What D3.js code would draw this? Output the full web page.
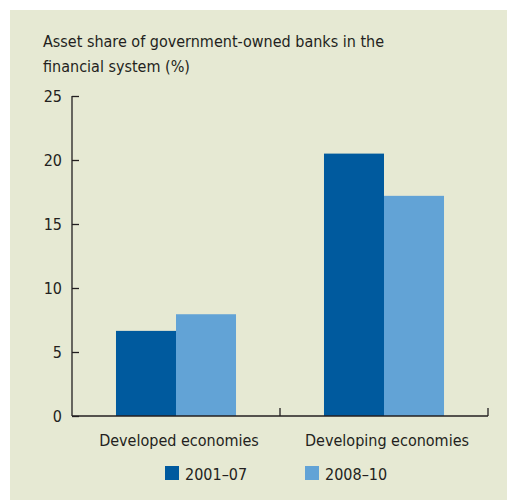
<!DOCTYPE html>
<html><head><meta charset="utf-8">
<script src="https://cdn.jsdelivr.net/npm/d3@7"></script>
<style>body{margin:0;background:#fff}svg text{font-family:"DejaVu Sans Condensed","Liberation Sans Narrow",sans-serif;fill:#231f20}</style>
</head><body><svg id="c" width="507" height="500"></svg>
<script>
const categories = ["Developed economies", "Developing economies"];
const seriesNames = ["2001–07", "2008–10"];
const values2001_07 = [6.65, 20.5];
const values2008_10 = [7.95, 17.2];
const yTicks = [0, 5, 10, 15, 20, 25];
const colors = ["#005a9e", "#62a3d6"];
const title = ["Asset share of government-owned banks in the", "financial system (%)"];

const FS = "16px";
const svg = d3.select("#c");
svg.append("rect").attr("x", 10).attr("y", 10).attr("width", 497).attr("height", 490).attr("fill", "#e6e9d3");

const x0 = 72, x1 = 488, yTop = 96, yBot = 416;
const y = d3.scaleLinear().domain([0, 25]).range([yBot, yTop]);
const x = d3.scaleBand().domain(categories).range([x0, x1]).paddingInner(0).paddingOuter(0);
const xs = d3.scaleBand().domain(seriesNames).range([0, x.bandwidth()]).paddingInner(0).paddingOuter(0.733);

const t = svg.append("text").attr("x", 43).attr("y", 47).style("font-size", FS);
title.forEach((l, i) => t.append("tspan").attr("x", 43).attr("dy", i ? 25 : 0).text(l));

const series = [values2001_07, values2008_10];
series.forEach((vals, si) => {
  svg.append("g").selectAll("rect").data(categories).join("rect")
    .attr("x", d => x(d) + xs(seriesNames[si]))
    .attr("width", xs.bandwidth())
    .attr("y", (d, i) => y(vals[i]))
    .attr("height", (d, i) => y(0) - y(vals[i]))
    .attr("fill", colors[si]);
});

// y axis
const ya = svg.append("g").attr("transform", `translate(${x0},0)`)
  .call(d3.axisRight(y).tickValues(yTicks).tickSize(7).tickFormat(""));
ya.select(".domain").remove();
ya.selectAll("line").attr("stroke", "#231f20").attr("stroke-width", 1.3);
svg.append("line").attr("x1", x0).attr("x2", x0).attr("y1", yTop).attr("y2", yBot).attr("stroke", "#231f20").attr("stroke-width", 1.3);
svg.append("g").selectAll("text").data(yTicks).join("text")
  .attr("x", 62).attr("y", d => y(d)).attr("dy", "0.4em").attr("text-anchor", "end")
  .style("font-size", FS).text(d => d);

// x axis
svg.append("line").attr("x1", x0).attr("x2", x1).attr("y1", yBot).attr("y2", yBot).attr("stroke", "#231f20").attr("stroke-width", 1.3);
const xb = [x(categories[1]), x1];
svg.append("g").selectAll("line").data(xb).join("line")
  .attr("x1", d => d).attr("x2", d => d).attr("y1", yBot).attr("y2", yBot - 8)
  .attr("stroke", "#231f20").attr("stroke-width", 1.3);
svg.append("g").selectAll("text").data(categories).join("text")
  .attr("x", d => x(d) + x.bandwidth() / 2 + 3).attr("y", 446).attr("text-anchor", "middle")
  .style("font-size", FS).text(d => d);

// legend
const legX = [165, 305];
seriesNames.forEach((s, i) => {
  svg.append("rect").attr("x", legX[i]).attr("y", 466).attr("width", 14).attr("height", 14).attr("fill", colors[i]);
  svg.append("text").attr("x", legX[i] + 20).attr("y", 479.5).style("font-size", FS).text(s);
});
</script></body></html>
